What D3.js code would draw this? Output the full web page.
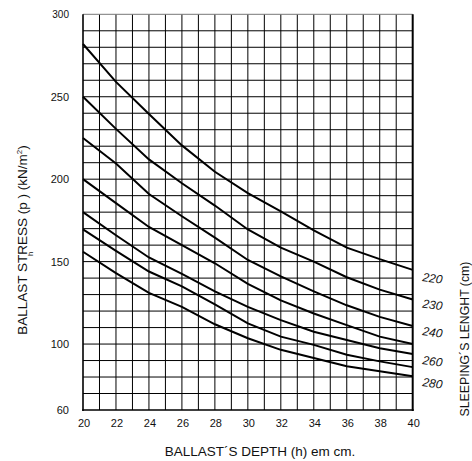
<!DOCTYPE html>
<html><head><meta charset="utf-8">
<script src="https://cdn.jsdelivr.net/npm/d3@7"></script>
<style>html,body{margin:0;padding:0;background:#fff;}svg{display:block;font-family:"Liberation Sans",Arial,sans-serif;}</style>
</head><body>
<script>
const depths = [20,22,24,26,28,30,32,34,36,38,40];
const s220 = [282,259,239.5,220.5,204.5,191.5,180.5,169,158.5,151.5,145];
const s230 = [250,230.5,212,197.5,184,169.5,158.5,150,140.5,133,127];
const s240 = [225,209.5,191,177.5,164.5,151,141,132,123.5,116.5,111];
const s250 = [200,185.5,171,160,149,136.5,126.5,118.5,111.5,104.5,100];
const s260 = [180,166,152.5,142.5,132,122.5,114.5,107.5,102.5,97.5,94];
const s270 = [169.5,156.5,144,135,124,112.5,104.5,99.5,93.5,89.5,86];
const s280 = [156,143,131,122.5,112,103.5,96.5,91.5,86.5,83.5,80.5];
const seriesList = [s220,s230,s240,s250,s260,s270,s280];
const curveLabels = ["220","230","240","260","280"];
const curveLabelY = [277,303.5,331,360,382];
const xTicks = [20,22,24,26,28,30,32,34,36,38,40];
const yTicks = [60,100,150,200,250,300];

const W=472,H=461;
const svg=d3.select("body").append("svg").attr("width",W).attr("height",H);
const x=d3.scaleLinear().domain([20,40]).range([83,412.7]);
const y=d3.scaleLinear().domain([60,300]).range([410,14.3]);

const g=svg.append("g");
// grid
g.selectAll("line.v").data(d3.range(21,40)).join("line")
 .attr("x1",d=>x(d)).attr("x2",d=>x(d)).attr("y1",y(300)).attr("y2",y(60))
 .attr("stroke","#000").attr("stroke-width",1);
g.selectAll("line.h").data(d3.range(70,300,10)).join("line")
 .attr("y1",d=>y(d)).attr("y2",d=>y(d)).attr("x1",x(20)).attr("x2",x(40))
 .attr("stroke","#000").attr("stroke-width",1);
// frame
g.append("line").attr("x1",x(20)).attr("x2",x(40)).attr("y1",y(300)).attr("y2",y(300)).attr("stroke","#777").attr("stroke-width",1);
g.append("line").attr("x1",x(20)).attr("x2",x(20)).attr("y1",y(300)).attr("y2",y(60)+1).attr("stroke","#000").attr("stroke-width",1.6);
g.append("line").attr("x1",x(40)).attr("x2",x(40)).attr("y1",y(300)).attr("y2",y(60)+1).attr("stroke","#000").attr("stroke-width",2);
g.append("line").attr("x1",x(20)-0.8).attr("x2",x(40)+1).attr("y1",y(60)).attr("y2",y(60)).attr("stroke","#000").attr("stroke-width",1.6);

// curves
const line=d3.line().x((d,i)=>x(depths[i])).y(d=>y(d)).curve(d3.curveLinear);
g.selectAll("path.c").data(seriesList).join("path")
 .attr("d",line).attr("fill","none").attr("stroke","#000").attr("stroke-width",2);

// tick labels
g.selectAll("text.xt").data(xTicks).join("text")
 .attr("x",d=>x(d)+1).attr("y",426.5).attr("text-anchor","middle")
 .attr("font-size",11).attr("fill","#111").text(d=>d);
g.selectAll("text.yt").data(yTicks).join("text")
 .attr("x",69).attr("y",d=>y(d)+4).attr("text-anchor","end")
 .attr("font-size",d=>d===300?10:11).attr("fill","#111").text(d=>d);

// curve labels
g.selectAll("text.cl").data(curveLabels).join("text")
 .attr("transform",(d,i)=>`translate(422,${curveLabelY[i]+4}) rotate(8)`)
 .attr("font-size",12).attr("font-style","italic").attr("fill","#111").text(d=>d);

// x title
g.append("text").attr("x",260).attr("y",456).attr("text-anchor","middle")
 .attr("font-size",13.5).attr("fill","#111").text("BALLAST´S DEPTH (h) em cm.");

// y title
const yt=g.append("text").attr("transform","translate(27,240) rotate(-90)")
 .attr("text-anchor","middle").attr("font-size",13.5).attr("fill","#111");
yt.append("tspan").text("BALLAST STRESS (p  )  (kN/m");
yt.append("tspan").attr("font-size",8).attr("dy",-5).text("2");
yt.append("tspan").attr("dy",5).text(")");
g.append("text").attr("transform","translate(33,256) rotate(-90)")
 .attr("font-size",8).attr("fill","#111").text("h");

// right title
g.append("text").attr("transform","translate(469,339) rotate(-90)")
 .attr("text-anchor","middle").attr("font-size",12.3).attr("fill","#111").text("SLEEPING´S LENGHT  (cm)");
</script>
</body></html>
